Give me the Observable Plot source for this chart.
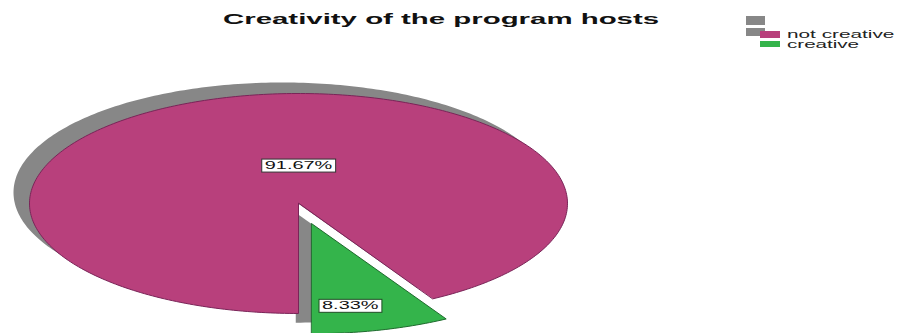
<!DOCTYPE html>
<html><head><meta charset="utf-8">
<script src="https://cdn.jsdelivr.net/npm/d3@7"></script>
<script src="https://cdn.jsdelivr.net/npm/@observablehq/plot@0.6"></script>
<style>
body{margin:0;background:#fff;font-family:"Liberation Sans",Arial,sans-serif;}
#wrap{position:relative;width:898px;height:333px;overflow:hidden;}
#wrap svg{position:absolute;left:0;top:0;}
#title{position:absolute;left:0;top:11px;font-weight:bold;font-size:15px;white-space:nowrap;transform-origin:0 0;color:#111;line-height:1;}
.sw{position:absolute;}
.lt{position:absolute;font-size:10px;white-space:nowrap;transform-origin:0 0;line-height:1;color:#222;}
</style></head><body><div id="wrap"><div id="title"></div></div>
<script>
const title = "Creativity of the program hosts";
const categories = ["not creative", "creative"];
const values = [91.67, 8.33];
const labels = ["91.67%", "8.33%"];
const colors = ["#b8407c", "#34b44b"];
const outlines = ["#7a2458", "#1f6b2e"];
const exploded = [false, true];
const shadowColor = "#878787";

const W = 898, H = 333;
const cx = 298, cy = 203, rx = 269, ry = 110;      // pie layout (pixels)
const shadowPx = [-16, -11];
const explode = 0.19;

const arcs = d3.pie().sort(null).value(d => d).startAngle(Math.PI).endAngle(3 * Math.PI)(values);

const slices = arcs.map((a, i) => {
  const mid = (a.startAngle + a.endAngle) / 2;
  const off = exploded[i] ? [explode * Math.sin(mid), explode * Math.cos(mid)] : [0, 0];
  const pts = [{x: off[0], y: off[1]}];
  const n = Math.max(8, Math.ceil((a.endAngle - a.startAngle) / (Math.PI / 180)));
  for (let k = 0; k <= n; k++) {
    const t = a.startAngle + (a.endAngle - a.startAngle) * k / n;
    pts.push({x: off[0] + Math.sin(t), y: off[1] + Math.cos(t)});
  }
  const big = (a.endAngle - a.startAngle) > Math.PI;
  const la = big ? 2 * Math.PI : mid + 0.072;
  const lr = big ? 0.345 : 0.76;
  return {i, pts, off, label: {x: off[0] + lr * Math.sin(la), y: off[1] + lr * Math.cos(la), text: labels[i]}};
});

const sdx = shadowPx[0] / rx, sdy = -shadowPx[1] / ry;
const marks = [];
slices.forEach(s => {
  marks.push(Plot.line(s.pts.map(p => ({x: p.x + sdx, y: p.y + sdy})), {x: "x", y: "y", fill: shadowColor, stroke: "none", curve: "linear-closed"}));
});
slices.forEach(s => {
  marks.push(Plot.line(s.pts, {x: "x", y: "y", fill: colors[s.i], stroke: outlines[s.i], strokeWidth: 1, curve: "linear-closed"}));
});
marks.push(Plot.text(slices.map(s => s.label), {x: "x", y: "y", text: "text", fontSize: 11, fill: "#111", fontFamily: "Liberation Sans, Arial, sans-serif"}));

const plot = Plot.plot({
  width: W, height: H, margin: 0,
  x: {domain: [(0 - cx) / rx, (W - cx) / rx], axis: null},
  y: {domain: [(cy - H) / ry, cy / ry], axis: null},
  style: {background: "transparent"},
  marks
});
const wrap = document.getElementById("wrap");
wrap.insertBefore(plot, wrap.firstChild);

// label boxes
plot.querySelectorAll('g[aria-label="text"] text').forEach((t, i) => {
  const b0 = t.getBBox();
  t.setAttribute("textLength", (b0.width * 1.8).toFixed(1));
  t.setAttribute("lengthAdjust", "spacingAndGlyphs");
  const b = t.getBBox();
  const r = document.createElementNS("http://www.w3.org/2000/svg", "rect");
  r.setAttribute("x", b.x - 3); r.setAttribute("y", b.y);
  r.setAttribute("width", b.width + 6); r.setAttribute("height", b.height + 1);
  const tr = t.getAttribute("transform");
  if (tr) r.setAttribute("transform", tr);
  r.setAttribute("fill", "#fff"); r.setAttribute("stroke", i === 1 ? "#1f4d25" : "#333"); r.setAttribute("stroke-width", 1);
  t.parentNode.insertBefore(r, t);
});

// title
const te = document.getElementById("title");
te.textContent = title;
const tw = te.offsetWidth;
te.style.transform = `scaleX(${437 / tw})`;
te.style.left = "223px";

// legend
const legTops = [31, 41];
categories.forEach((c, i) => {
  if (i === 0) {
    const sh = document.createElement("div"); sh.className = "sw";
    Object.assign(sh.style, {left: "746px", top: "16px", width: "19px", height: "9px", background: shadowColor});
    wrap.appendChild(sh);
    const sh2 = document.createElement("div"); sh2.className = "sw";
    Object.assign(sh2.style, {left: "746px", top: "28px", width: "19px", height: "8px", background: shadowColor});
    wrap.appendChild(sh2);
  }
  const sw = document.createElement("div");
  sw.className = "sw";
  Object.assign(sw.style, {left: "760px", top: legTops[i] + "px", width: "20px", height: (i === 0 ? 7 : 6) + "px", background: colors[i]});
  wrap.appendChild(sw);
  const lt = document.createElement("div");
  lt.className = "lt";
  lt.textContent = c;
  wrap.appendChild(lt);
  const w = lt.offsetWidth;
  const target = i === 0 ? 108 : 72;
  lt.style.transform = `scaleX(${target / w})`;
  Object.assign(lt.style, {left: "787px", top: (legTops[i] - 1) + "px"});
});
</script></body></html>
